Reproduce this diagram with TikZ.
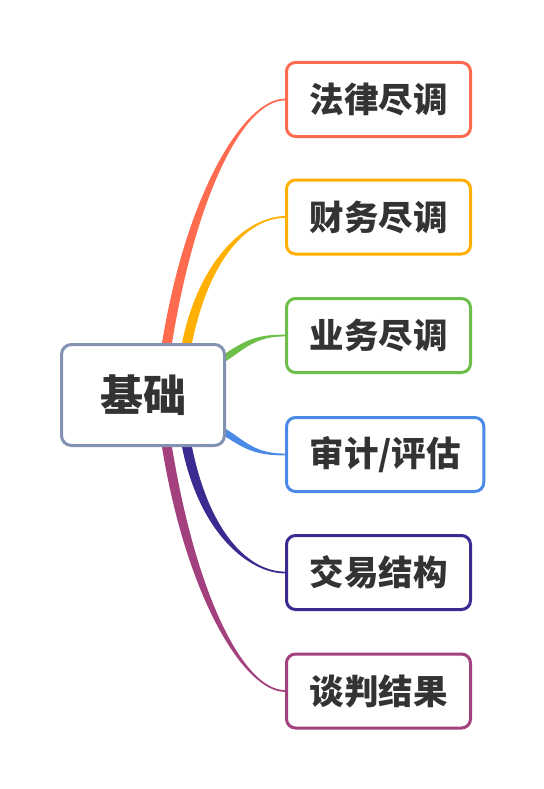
\documentclass[tikz,border=0pt]{standalone}
\usepackage{fontspec}
\newfontfamily\cjk{Noto Sans CJK SC}
\usetikzlibrary{calc,backgrounds}
\definecolor{cRed}{HTML}{FF6B4F}
\definecolor{cOrange}{HTML}{FFB000}
\definecolor{cGreen}{HTML}{6DBF4A}
\definecolor{cBlue}{HTML}{4A8AE6}
\definecolor{cPurple}{HTML}{3B2A90}
\definecolor{cMagenta}{HTML}{A3407E}
\definecolor{cCenter}{HTML}{8391B3}
\definecolor{cText}{HTML}{333333}
\newcommand\taperbranch[6]{%
  \fill[#1] ($(#2)-(#6)$) .. controls ($(#3)-(#6)$) and ($(#4)+(0,-0.9)$) .. ($(#5)+(0,-0.9)$)
    -- ($(#5)+(0,0.9)$) .. controls ($(#4)+(0,0.9)$) and ($(#3)+(#6)$) .. ($(#2)+(#6)$) -- cycle;}
\tikzset{
  topicbox/.style={draw=#1, line width=3pt, rounded corners=9pt, fill=white,
    text=cText, font=\cjk\bfseries\fontsize{34.5}{40}\selectfont,
    inner xsep=23pt, minimum height=74pt, anchor=west},
  centerbox/.style={draw=cCenter, line width=3pt, rounded corners=10pt, fill=white,
    text=cText, font=\cjk\bfseries\fontsize{43}{50}\selectfont,
    minimum width=163pt, minimum height=101pt}
}
\begin{document}
\begin{tikzpicture}[x=1pt,y=-1pt]
\useasboundingbox (0,0) rectangle (543,789);
\node[centerbox] (c) at (143,395) {基础};
\node[topicbox=cRed] (n1) at (285,99.5) {法律尽调};
\node[topicbox=cOrange] (n2) at (285,217) {财务尽调};
\node[topicbox=cGreen] (n3) at (285,335.5) {业务尽调};
\node[topicbox=cBlue] (n4) at (285,454.5) {审计/评估};
\node[topicbox=cPurple] (n5) at (285,572.5) {交易结构};
\node[topicbox=cMagenta] (n6) at (285,691) {谈判结果};
\begin{scope}[on background layer]
\coordinate (s1) at ($(c.north)+(24,0)$);
\coordinate (s2) at ($(c.north)+(44,0)$);
\coordinate (s3) at ($(c.east)+(0,-38)$);
\coordinate (s4) at ($(c.east)+(0,38)$);
\coordinate (s5) at ($(c.south)+(44,0)$);
\coordinate (s6) at ($(c.south)+(24,0)$);
\taperbranch{cRed}{s1}{192,190}{245,99.5}{n1.west}{5,0}
\taperbranch{cOrange}{s2}{205,255}{250,217}{n2.west}{5,0}
\taperbranch{cGreen}{s3}{245,345}{255,335.5}{n3.west}{0,4}
\taperbranch{cBlue}{s4}{245,445}{255,454.5}{n4.west}{0,4}
\taperbranch{cPurple}{s5}{205,535}{250,572.5}{n5.west}{-5,0}
\taperbranch{cMagenta}{s6}{192,600}{245,691}{n6.west}{-5,0}
\end{scope}
\end{tikzpicture}
\end{document}
